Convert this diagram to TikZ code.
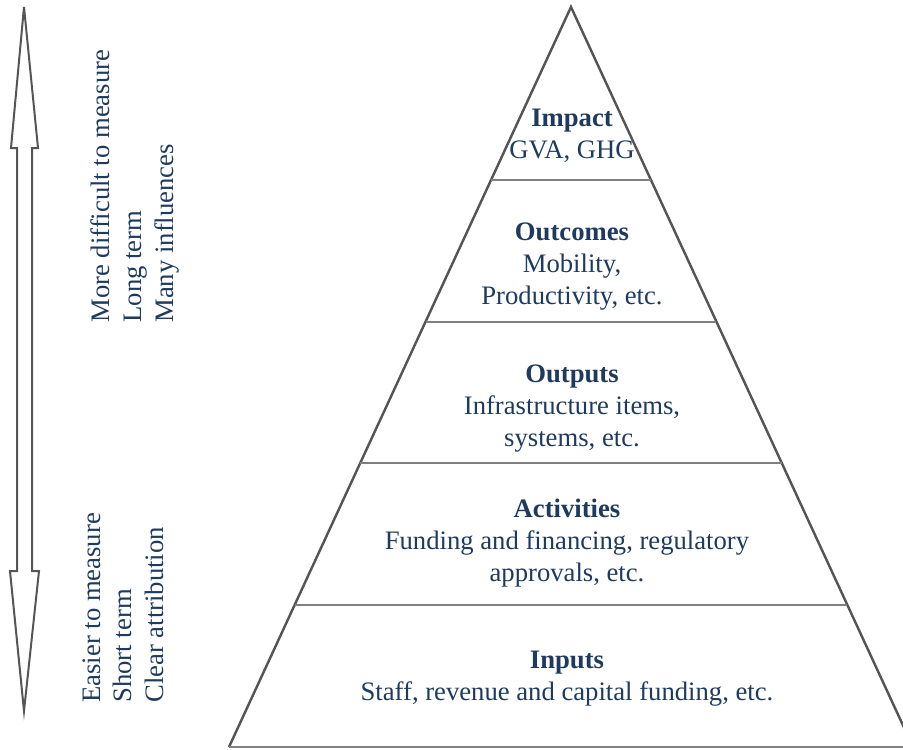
\documentclass[tikz,border=0pt]{standalone}
\usepackage{fontspec}
\setmainfont{Liberation Serif}
\usetikzlibrary{calc}
\definecolor{inkblue}{HTML}{1E3A5F}
\definecolor{edgegray}{HTML}{555555}
\definecolor{rulegray}{HTML}{808080}
\tikzset{
  tier/.style={align=center,text=inkblue,inner sep=0pt,
    font=\fontsize{12}{14.4}\selectfont},
  side/.style={rotate=90,anchor=west,align=left,text=inkblue,inner sep=0pt,
    font=\fontsize{12}{14.2}\selectfont},
  outline/.style={draw=edgegray,line width=1.1pt},
  divider/.style={draw=rulegray,line width=0.9pt},
}
\begin{document}
\begin{tikzpicture}[x=0.45pt,y=-0.45pt]
  \useasboundingbox (0,0) rectangle (903,749);
  % pyramid corners (right corner runs off the page)
  \coordinate (apex) at (571,7);
  \coordinate (baseL) at (229,747);
  \coordinate (baseR) at (913,747);
  \begin{scope}
    \clip (0,0) rectangle (903,749);
    \draw[outline] (baseL) -- (apex) -- (baseR);
  \end{scope}
  \draw[outline,draw=rulegray] (baseL) -- (903,747);
  % tier boundaries
  \foreach \t in {1,2,3,4} {
    \coordinate (l\t) at ($(baseL)!{\t*0.1916}!(apex)$);
    \coordinate (r\t) at ($(baseR)!{\t*0.1916}!(apex)$);
    \draw[divider] (l\t) -- (r\t);
  }
  % tier labels
  \node[tier] (impact) at (572,136) {\textbf{Impact}\\GVA, GHG};
  \node[tier] (outcomes) at (572,267) {\textbf{Outcomes}\\Mobility,\\Productivity, etc.};
  \node[tier] (outputs) at (572,409) {\textbf{Outputs}\\Infrastructure items,\\systems, etc.};
  \node[tier] (activities) at (567,543) {\textbf{Activities}\\Funding and financing, regulatory\\approvals, etc.};
  \node[tier] (inputs) at (567,679) {\textbf{Inputs}\\Staff, revenue and capital funding, etc.};
  % two-headed scale arrow
  \draw[draw=edgegray,line width=0.9pt]
    (24,7) -- (38,148) -- (32,148) -- (32,571) -- (39,571) -- (24,711)
    -- (10,571) -- (17,571) -- (17,148) -- (11,148) -- cycle;
  \node[side] (hard) at (135,323) {More difficult to measure\\Long term\\Many influences};
  \node[side] (easy) at (123,703) {Easier to measure\\Short term\\Clear attribution};
\end{tikzpicture}
\end{document}
